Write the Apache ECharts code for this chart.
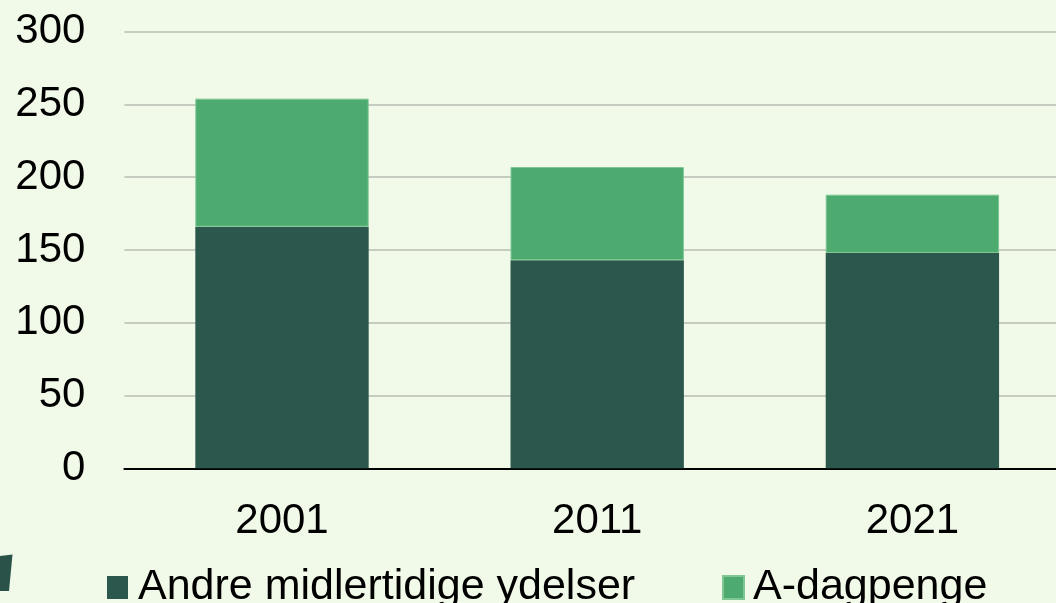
<!DOCTYPE html>
<html>
<head>
<meta charset="utf-8">
<script src="https://cdn.jsdelivr.net/npm/echarts@6/dist/echarts.min.js"></script>
<style>
html,body{margin:0;padding:0;background:#f1f9e8;overflow:hidden;}
#c{width:1080px;height:603px;}
</style>
</head>
<body>
<div id="c"></div>
<script>
const categories = ['2001', '2011', '2021'];
const andreValues = [166, 143, 148];
const dagpengeValues = [88, 64, 40];
const yTicks = [0, 50, 100, 150, 200, 250, 300];
const seriesNames = ['Andre midlertidige ydelser', 'A-dagpenge'];

const font = '"Liberation Sans", Arial, Helvetica, sans-serif';
const chart = echarts.init(document.getElementById('c'), null, {renderer: 'canvas'});
chart.setOption({
  backgroundColor: '#f1f9e8',
  animation: false,
  grid: {left: 124.4, top: 31.7, width: 945.6, height: 436.6, containLabel: false},
  xAxis: {
    type: 'category',
    data: categories,
    axisLine: {show: true, lineStyle: {color: '#000', width: 2}},
    axisTick: {show: false},
    axisLabel: {color: '#000', fontSize: 42, fontFamily: font, margin: 32}
  },
  yAxis: {
    type: 'value',
    min: yTicks[0],
    max: yTicks[yTicks.length - 1],
    interval: 50,
    axisLine: {show: false},
    axisTick: {show: false},
    splitLine: {lineStyle: {color: '#b9bcb3', width: 1.5}},
    axisLabel: {color: '#000', fontSize: 42, fontFamily: font, margin: 39}
  },
  legend: [
    {data: [seriesNames[0]], left: 102, top: 561, icon: 'rect', itemWidth: 21, itemHeight: 23,
     textStyle: {color: '#000', fontSize: 43, fontFamily: font, padding: [0, 0, 0, 5]}},
    {data: [seriesNames[1]], left: 717, top: 561, icon: 'rect', itemWidth: 21, itemHeight: 23,
     textStyle: {color: '#000', fontSize: 43, fontFamily: font, padding: [0, 0, 0, 4]}}
  ],
  series: [
    {name: seriesNames[0], type: 'bar', stack: 'a', data: andreValues, barWidth: '55%',
     itemStyle: {color: '#2c574d'}},
    {name: seriesNames[1], type: 'bar', stack: 'a', data: dagpengeValues, barWidth: '55%',
     itemStyle: {color: '#4dab70', borderColor: '#7fc793', borderWidth: 1}}
  ],
  graphic: [
    {type: 'polygon', shape: {points: [[0, 556], [12.5, 554.5], [9, 591], [0, 591]]},
     style: {fill: '#2b5249'}}
  ]
});
</script>
</body>
</html>
